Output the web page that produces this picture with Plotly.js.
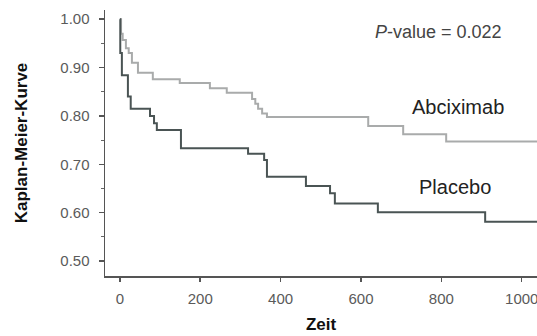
<!DOCTYPE html>
<html><head><meta charset="utf-8">
<script src="https://cdn.plot.ly/plotly-3.0.1.min.js"></script>
<style>html,body{margin:0;padding:0;background:#fff}#c{width:537px;height:336px}</style>
</head><body><div id="c"></div>
<script>
const abcTime = [0, 3, 7, 15, 22, 30, 45, 82, 149, 224, 266, 329, 337, 344, 354, 366, 618, 705, 812, 1040];
const abcSurv = [1.0, 0.97, 0.957, 0.94, 0.93, 0.91, 0.889, 0.876, 0.868, 0.857, 0.848, 0.835, 0.825, 0.815, 0.805, 0.798, 0.779, 0.762, 0.747, 0.747];
const plaTime = [0, 1, 5, 20, 27, 75, 85, 92, 152, 319, 359, 366, 463, 523, 535, 642, 909, 1040];
const plaSurv = [1.0, 0.93, 0.884, 0.84, 0.815, 0.80, 0.785, 0.771, 0.733, 0.722, 0.709, 0.674, 0.655, 0.64, 0.619, 0.601, 0.581, 0.581];
const xTicks = [0, 200, 400, 600, 800, 1000];
const yTicks = [0.5, 0.6, 0.7, 0.8, 0.9, 1.0];
const yTickText = ["0.50", "0.60", "0.70", "0.80", "0.90", "1.00"];

const traces = [
  {x: abcTime, y: abcSurv, type: 'scatter', mode: 'lines', line: {shape: 'hv', color: '#a9abab', width: 2}, name: 'Abciximab'},
  {x: plaTime, y: plaSurv, type: 'scatter', mode: 'lines', line: {shape: 'hv', color: '#4a5454', width: 2}, name: 'Placebo'}
];
const layout = {
  width: 537, height: 336,
  margin: {l: 105, r: 0, t: 10, b: 60},
  paper_bgcolor: '#fff', plot_bgcolor: '#fff',
  showlegend: false,
  font: {family: 'Liberation Sans, Arial, sans-serif', color: '#555'},
  xaxis: {
    range: [-37, 1038], showgrid: false, zeroline: false,
    showline: true, linecolor: '#555', linewidth: 1.5,
    ticks: 'outside', ticklen: 4, tickcolor: '#555', tickwidth: 1.5,
    tickvals: xTicks, ticktext: xTicks.map(String), ticklabeloverflow: 'allow',
    tickfont: {size: 15, color: '#5a5a5a'}, ticklabelstandoff: 4,
    title: {text: '<b>Zeit</b>', font: {size: 17, color: '#111'}, standoff: 12}
  },
  yaxis: {
    range: [0.469, 1.019], showgrid: false, zeroline: false,
    showline: true, linecolor: '#555', linewidth: 1.5,
    ticks: 'outside', ticklen: 5, tickcolor: '#555', tickwidth: 1.5,
    tickvals: yTicks, ticktext: yTickText,
    tickfont: {size: 15, color: '#5a5a5a'}, ticklabelstandoff: 6,
    minor: {dtick: 0.05, tick0: 0.5, ticks: 'outside', ticklen: 3, tickcolor: '#666', tickwidth: 1, showgrid: false},
    title: {text: '<b>Kaplan-Meier-Kurve</b>', font: {size: 17, color: '#111'}, standoff: 28}
  },
  annotations: [
    {xref: 'paper', yref: 'paper', x: 0.773, y: 0.917, xanchor: 'center', yanchor: 'middle', showarrow: false,
     text: '<i>P</i>-value = 0.022', font: {size: 18, color: '#444'}},
    {xref: 'paper', yref: 'paper', x: 0.816, y: 0.635, xanchor: 'center', yanchor: 'middle', showarrow: false,
     text: 'Abciximab', font: {size: 20, color: '#222'}},
    {xref: 'paper', yref: 'paper', x: 0.810, y: 0.335, xanchor: 'center', yanchor: 'middle', showarrow: false,
     text: 'Placebo', font: {size: 20, color: '#222'}}
  ]
};
Plotly.newPlot('c', traces, layout, {displayModeBar: false, staticPlot: true});
</script></body></html>
